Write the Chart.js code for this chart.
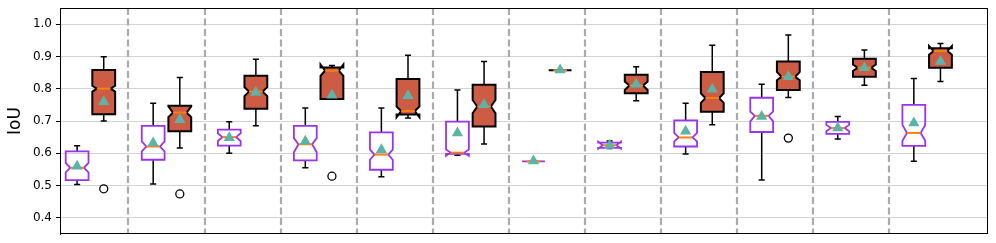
<!DOCTYPE html>
<html>
<head>
<meta charset="utf-8">
<script src="https://cdn.jsdelivr.net/npm/chart.js@4.4.1/dist/chart.umd.min.js"></script>
<style>
  html, body { margin: 0; padding: 0; background: #fff; }
  #wrap { width: 996px; height: 243px; }
</style>
</head>
<body>
<div id="wrap"><canvas id="chart" width="996" height="243"></canvas></div>
<script>
// 12 groupes, deux boîtes par groupe (violette = vide, rouge = remplie)
const groups = ['1', '2', '3', '4', '5', '6', '7', '8', '9', '10', '11', '12'];
const yTicks = [0.4, 0.5, 0.6, 0.7, 0.8, 0.9, 1.0];

// Série violette
const purpleWhiskLo = [0.503, 0.505, 0.600, 0.555, 0.527, 0.594, 0.575, 0.615, 0.598, 0.517, 0.644, 0.575];
const purpleQ1      = [0.517, 0.580, 0.624, 0.578, 0.549, 0.598, 0.575, 0.617, 0.621, 0.666, 0.660, 0.623];
const purpleMedian  = [0.555, 0.621, 0.650, 0.628, 0.596, 0.602, 0.575, 0.625, 0.649, 0.716, 0.678, 0.663];
const purpleQ3      = [0.606, 0.685, 0.673, 0.685, 0.665, 0.698, 0.575, 0.633, 0.702, 0.772, 0.697, 0.750];
const purpleWhiskHi = [0.623, 0.755, 0.698, 0.740, 0.740, 0.796, 0.575, 0.638, 0.755, 0.814, 0.714, 0.832];
const purpleNotchLo = [0.541, 0.606, 0.638, 0.603, 0.580, 0.592, 0.575, 0.614, 0.637, 0.699, 0.668, 0.639];
const purpleNotchHi = [0.570, 0.637, 0.662, 0.647, 0.611, 0.612, 0.575, 0.636, 0.663, 0.729, 0.688, 0.688];
const purpleMean    = [0.560, 0.632, 0.648, 0.637, 0.611, 0.663, 0.576, 0.624, 0.668, 0.714, 0.678, 0.694];
const purpleOutliers = [[], [], [], [], [], [], [], [], [], [], [], []];

// Série rouge
const redWhiskLo = [0.700, 0.616, 0.685, 0.768, 0.709, 0.629, 0.857, 0.763, 0.688, 0.773, 0.811, 0.822];
const redQ1      = [0.721, 0.668, 0.738, 0.768, 0.720, 0.683, 0.857, 0.786, 0.729, 0.796, 0.837, 0.865];
const redMedian  = [0.800, 0.726, 0.791, 0.856, 0.731, 0.745, 0.857, 0.810, 0.771, 0.837, 0.865, 0.917];
const redQ3      = [0.858, 0.747, 0.840, 0.866, 0.830, 0.812, 0.857, 0.843, 0.852, 0.884, 0.893, 0.925];
const redWhiskHi = [0.899, 0.835, 0.891, 0.872, 0.904, 0.884, 0.857, 0.868, 0.935, 0.966, 0.920, 0.940];
const redNotchLo = [0.791, 0.712, 0.777, 0.840, 0.712, 0.724, 0.857, 0.796, 0.756, 0.826, 0.855, 0.905];
const redNotchHi = [0.809, 0.745, 0.805, 0.875, 0.745, 0.765, 0.857, 0.822, 0.786, 0.852, 0.875, 0.932];
const redMean    = [0.760, 0.704, 0.788, 0.780, 0.778, 0.750, 0.858, 0.814, 0.798, 0.837, 0.865, 0.884];
const redOutliers = [[0.490], [0.474], [], [0.529], [], [], [], [], [], [0.647], [], []];

const PURPLE = '#9933ee';
const RED_FILL = '#cd5c45';
const TEAL = '#5cb3a8';
const ORANGE = '#ff7f0e';
const OFFSET = 0.175;     // décalage de chaque boîte par rapport au centre du groupe
const BOX_W = 0.30;       // largeur des boîtes (unités x)
const CAP_W = 0.08;       // largeur des moustaches

const series = [
    { off: -OFFSET, stroke: PURPLE, fill: null, lw: 1.8,
      lo: purpleWhiskLo, q1: purpleQ1, med: purpleMedian, q3: purpleQ3, hi: purpleWhiskHi,
      nlo: purpleNotchLo, nhi: purpleNotchHi },
    { off: OFFSET, stroke: '#000', fill: RED_FILL, lw: 2,
      lo: redWhiskLo, q1: redQ1, med: redMedian, q3: redQ3, hi: redWhiskHi,
      nlo: redNotchLo, nhi: redNotchHi }
];

// Points : moyennes (triangles) et valeurs aberrantes (cercles)
const meanPurplePts = purpleMean.map((v, i) => ({ x: i - OFFSET, y: v }));
const meanRedPts = redMean.map((v, i) => ({ x: i + OFFSET, y: v }));
const outlierPts = [];
purpleOutliers.forEach((arr, i) => arr.forEach(v => outlierPts.push({ x: i - OFFSET, y: v })));
redOutliers.forEach((arr, i) => arr.forEach(v => outlierPts.push({ x: i + OFFSET, y: v })));

/**
 * Dessine les séparateurs, les boîtes à encoche, moustaches et médianes
 */
const boxPlugin = {
    id: 'boxes',
    beforeDatasetsDraw(chart) {
        const ctx = chart.ctx;
        const xs = chart.scales.x;
        const ys = chart.scales.y;
        const area = chart.chartArea;

        ctx.save();
        // séparateurs verticaux en tirets
        ctx.strokeStyle = '#aaaaaa';
        ctx.lineWidth = 2.2;
        ctx.setLineDash([7, 3.5]);
        for (let i = 0; i < groups.length - 1; i++) {
            const px = Math.round(xs.getPixelForValue(i + 0.5));
            ctx.beginPath();
            ctx.moveTo(px, area.top);
            ctx.lineTo(px, area.bottom);
            ctx.stroke();
        }
        ctx.setLineDash([]);

        series.forEach(s => {
            groups.forEach((g, i) => {
                const c = i + s.off;
                const cx = xs.getPixelForValue(c);
                const xl = xs.getPixelForValue(c - BOX_W / 2);
                const xr = xs.getPixelForValue(c + BOX_W / 2);
                const inset = (xr - xl) * 0.2;
                const capL = xs.getPixelForValue(c - CAP_W / 2);
                const capR = xs.getPixelForValue(c + CAP_W / 2);
                const y = v => ys.getPixelForValue(v);

                // moustaches
                ctx.strokeStyle = '#000';
                ctx.lineWidth = 1.5;
                ctx.beginPath();
                ctx.moveTo(cx, y(s.q3[i])); ctx.lineTo(cx, y(s.hi[i]));
                ctx.moveTo(cx, y(s.q1[i])); ctx.lineTo(cx, y(s.lo[i]));
                ctx.moveTo(capL, y(s.hi[i])); ctx.lineTo(capR, y(s.hi[i]));
                ctx.moveTo(capL, y(s.lo[i])); ctx.lineTo(capR, y(s.lo[i]));
                ctx.stroke();

                // boîte à encoche
                ctx.beginPath();
                ctx.moveTo(xl, y(s.q1[i]));
                ctx.lineTo(xr, y(s.q1[i]));
                ctx.lineTo(xr, y(s.nlo[i]));
                ctx.lineTo(xr - inset, y(s.med[i]));
                ctx.lineTo(xr, y(s.nhi[i]));
                ctx.lineTo(xr, y(s.q3[i]));
                ctx.lineTo(xl, y(s.q3[i]));
                ctx.lineTo(xl, y(s.nhi[i]));
                ctx.lineTo(xl + inset, y(s.med[i]));
                ctx.lineTo(xl, y(s.nlo[i]));
                ctx.closePath();
                if (s.fill) {
                    ctx.fillStyle = s.fill;
                    ctx.fill();
                }
                ctx.strokeStyle = s.stroke;
                ctx.lineWidth = s.lw;
                ctx.lineJoin = 'miter';
                ctx.stroke();

                // médiane
                ctx.strokeStyle = ORANGE;
                ctx.lineWidth = 2;
                ctx.beginPath();
                ctx.moveTo(xl + inset, y(s.med[i]));
                ctx.lineTo(xr - inset, y(s.med[i]));
                ctx.stroke();
            });
        });
        ctx.restore();
    },
    afterDraw(chart) {
        // cadre autour de la zone du graphique
        const ctx = chart.ctx;
        const a = chart.chartArea;
        ctx.save();
        ctx.strokeStyle = '#000';
        ctx.lineWidth = 1;
        ctx.strokeRect(a.left + 0.5, a.top + 0.5, a.right - a.left - 1, a.bottom - a.top - 1);
        ctx.restore();
    }
};

new Chart(document.getElementById('chart'), {
    type: 'scatter',
    data: {
        datasets: [
            {
                label: 'moyenne violette',
                data: meanPurplePts,
                pointStyle: 'triangle',
                radius: 6.5,
                backgroundColor: TEAL,
                borderWidth: 0,
                clip: false
            },
            {
                label: 'moyenne rouge',
                data: meanRedPts,
                pointStyle: 'triangle',
                radius: 6.5,
                backgroundColor: TEAL,
                borderWidth: 0,
                clip: false
            },
            {
                label: 'aberrants',
                data: outlierPts,
                pointStyle: 'circle',
                radius: 4,
                backgroundColor: 'rgba(255,255,255,0)',
                borderColor: '#000',
                borderWidth: 1.3,
                clip: false
            }
        ]
    },
    options: {
        responsive: false,
        animation: false,
        layout: { padding: { left: 0, right: 8, top: 8, bottom: 9 } },
        plugins: {
            legend: { display: false },
            tooltip: { enabled: false }
        },
        scales: {
            x: {
                type: 'linear',
                min: -0.40,
                max: 11.80,
                display: false
            },
            y: {
                min: 0.35,
                max: 1.05,
                afterBuildTicks: (scale) => {
                    scale.ticks = yTicks.map(v => ({ value: v }));
                },
                afterFit: (scale) => {
                    scale.width = 60;
                    scale.paddingTop = 0;
                    scale.paddingBottom = 0;
                },
                ticks: {
                    color: '#000',
                    font: { family: 'DejaVu Sans', size: 12 },
                    padding: 4,
                    callback: (v) => Number(v).toFixed(1)
                },
                grid: {
                    color: '#c8c8c8',
                    lineWidth: 0.8,
                    borderDash: [2, 2],
                    tickColor: '#000',
                    tickLength: 4,
                    tickWidth: 1,
                    tickBorderDash: []
                },
                border: { display: true, color: '#000', width: 1 },
                title: {
                    display: true,
                    text: 'IoU',
                    color: '#000',
                    font: { family: 'DejaVu Sans', size: 17 },
                    padding: { top: 5, bottom: 2 }
                }
            }
        }
    },
    plugins: [boxPlugin]
});
</script>
</body>
</html>
